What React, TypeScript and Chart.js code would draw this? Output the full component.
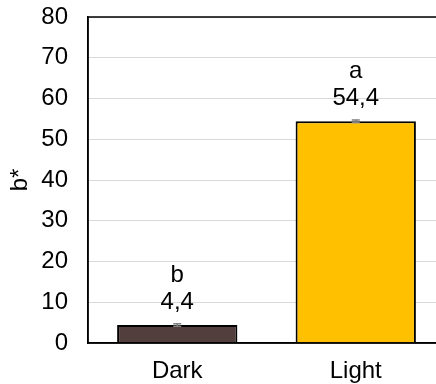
import React, { useEffect, useRef } from "react";
import { Chart, registerables } from "chart.js";

Chart.register(...registerables);

const categories = ["Dark", "Light"];
const values = [4.4, 54.4];
const errors = [0.3, 0.3];
const letters = ["b", "a"];
const valueLabels = ["4,4", "54,4"];
const barColors = ["#523F3D", "#FFC000"];
const yMin = 0;
const yMax = 80;
const yStep = 10;

const FONT = "'Liberation Sans', Arial, sans-serif";
const FS = 24;

const errorBarPlugin = {
  id: "errorBars",
  afterDatasetsDraw(chart: any) {
    const ctx = chart.ctx;
    const meta = chart.getDatasetMeta(0);
    const y = chart.scales.y;
    ctx.save();
    ctx.strokeStyle = "#7F7F7F";
    ctx.lineWidth = 1.5;
    meta.data.forEach((bar: any, i: number) => {
      const x = bar.x;
      const yHi = y.getPixelForValue(values[i] + errors[i]);
      const yLo = y.getPixelForValue(values[i] - errors[i]);
      ctx.beginPath();
      ctx.moveTo(x, yHi);
      ctx.lineTo(x, yLo);
      ctx.moveTo(x - 4, yHi);
      ctx.lineTo(x + 4, yHi);
      ctx.moveTo(x - 4, yLo);
      ctx.lineTo(x + 4, yLo);
      ctx.stroke();
    });
    ctx.restore();
  },
};

const labelPlugin = {
  id: "barLabels",
  afterDatasetsDraw(chart: any) {
    const ctx = chart.ctx;
    const meta = chart.getDatasetMeta(0);
    ctx.save();
    ctx.fillStyle = "#000000";
    ctx.font = `${FS}px ${FONT}`;
    ctx.textAlign = "center";
    ctx.textBaseline = "alphabetic";
    meta.data.forEach((bar: any, i: number) => {
      const top = bar.y;
      ctx.fillText(valueLabels[i], bar.x, top - 16);
      ctx.fillText(letters[i], bar.x, top - 43.5);
    });
    ctx.restore();
  },
};

const borderPlugin = {
  id: "plotBorder",
  afterDraw(chart: any) {
    const { ctx, chartArea } = chart;
    ctx.save();
    ctx.strokeStyle = "#000000";
    ctx.lineWidth = 1.5;
    ctx.strokeRect(chartArea.left, chartArea.top, chartArea.right - chartArea.left, chartArea.bottom - chartArea.top);
    ctx.restore();
  },
};

export default function App() {
  const ref = useRef<HTMLCanvasElement>(null);
  useEffect(() => {
    if (!ref.current) return;
    const chart = new Chart(ref.current, {
      type: "bar",
      data: {
        labels: categories,
        datasets: [
          {
            data: values,
            backgroundColor: barColors,
            borderColor: "#000000",
            borderWidth: 2,
            categoryPercentage: 1,
            barPercentage: 0.674,
          },
        ],
      },
      options: {
        responsive: false,
        animation: false,
        layout: { padding: { top: 17, right: 5, left: 0, bottom: 0 } },
        plugins: {
          legend: { display: false },
          tooltip: { enabled: false },
        },
        scales: {
          x: {
            grid: { display: false, drawTicks: false },
            border: { display: true, color: "#000000", width: 1.5 },
            ticks: { color: "#000000", font: { family: FONT, size: FS }, padding: 14 },
            afterFit: (s: any) => {
              s.height = 41;
              s.paddingLeft = 0;
              s.paddingRight = 0;
            },
          },
          y: {
            min: yMin,
            max: yMax,
            grid: { color: "#D9D9D9", lineWidth: 1, drawTicks: false },
            border: { display: true, color: "#000000", width: 1.5 },
            ticks: {
              stepSize: yStep,
              color: "#000000",
              font: { family: FONT, size: FS },
              padding: 20,
            },
            title: {
              display: true,
              text: "b*",
              color: "#000000",
              font: { family: FONT, size: FS },
              padding: { top: 6, bottom: 0 },
            },
            afterFit: (s: any) => {
              s.width = 88;
              s.paddingTop = 0;
              s.paddingBottom = 0;
            },
          },
        },
      },
      plugins: [errorBarPlugin, labelPlugin, borderPlugin],
    });
    return () => chart.destroy();
  }, []);
  return (
    <div style={{ position: "fixed", left: 0, top: 0, width: 450, height: 384, overflow: "hidden", background: "#fff" }}>
      <canvas ref={ref} width={450} height={384} style={{ width: 450, height: 384, display: "block" }} />
    </div>
  );
}
